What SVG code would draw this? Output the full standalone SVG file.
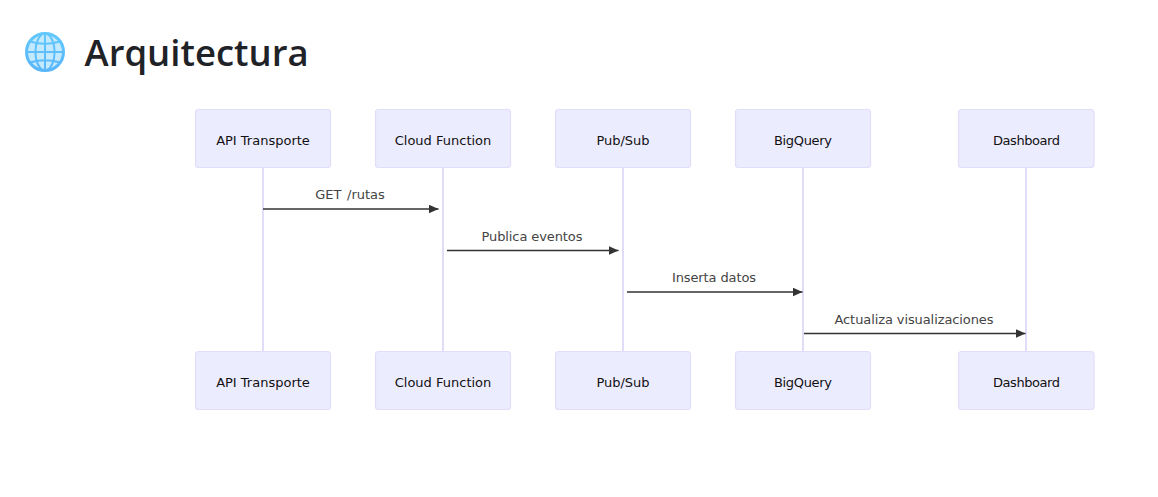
<svg xmlns="http://www.w3.org/2000/svg" width="1158" height="497" viewBox="0 0 1158 497">
<defs>
<linearGradient id="g" x1="0" y1="0" x2="0" y2="1"><stop offset="0" stop-color="#62c8fd"/><stop offset="1" stop-color="#5ab6fb"/></linearGradient>
<marker id="arrow" viewBox="0 0 10 9" refX="10" refY="4.500" markerWidth="10" markerHeight="9" markerUnits="userSpaceOnUse" orient="auto"><path d="M0 0L10 4.500L0 9z" fill="#333"/></marker>
</defs>
<style>
text{font-family:"DejaVu Sans",sans-serif}
.box{fill:#ececff;stroke:#e2ddf9;stroke-width:1.200}
.life{stroke:#e2dcf9;stroke-width:2;fill:none}
.msg{stroke:#333;stroke-width:1.500;fill:none;marker-end:url(#arrow)}
.nl{font-size:13px;fill:#111;text-anchor:middle}
.ml{font-size:13px;fill:#444;text-anchor:middle}
</style>
<rect width="1158" height="497" fill="#fff"/>
<g id="title-icon" fill="none">
<circle cx="45" cy="52" r="19" fill="#c2e9fe"/>
<g stroke="url(#g)" stroke-width="2">
<circle cx="45" cy="52" r="18.500" stroke-width="3"/>
<ellipse cx="45" cy="52" rx="9.500" ry="18.500"/>
<path d="M45 33.500V70.500M26.500 52H63.500M30 41.500Q45 46 60 41.500M30 62.500Q45 58 60 62.500"/>
</g>
</g>
<text id="title" x="84.500" y="66" font-size="36.500" font-weight="600" style="font-family:'Open Sans',sans-serif" fill="#1f2328">Arquitectura</text>
<g id="connectors">
<line class="life" x1="263" y1="168" x2="263" y2="351"/>
<line class="life" x1="443" y1="168" x2="443" y2="351"/>
<line class="life" x1="623" y1="168" x2="623" y2="351"/>
<line class="life" x1="803" y1="168" x2="803" y2="351"/>
<line class="life" x1="1026" y1="168" x2="1026" y2="351"/>
<line class="msg" x1="263" y1="209" x2="438.500" y2="209"/>
<text class="ml" x="350" y="199" word-spacing="1.500">GET /rutas</text>
<line class="msg" x1="447" y1="250.500" x2="618.500" y2="250.500"/>
<text class="ml" x="532" y="241" textLength="101">Publica eventos</text>
<line class="msg" x1="627" y1="292" x2="802.500" y2="292"/>
<text class="ml" x="714" y="282" textLength="84">Inserta datos</text>
<line class="msg" x1="804" y1="333.500" x2="1025.500" y2="333.500"/>
<text class="ml" x="914" y="324" textLength="159">Actualiza visualizaciones</text>
</g>
<g id="n1-top"><rect class="box" x="195.500" y="109.500" width="135" height="58" rx="3"/><text class="nl" x="263" y="145">API Transporte</text></g>
<g id="n2-top"><rect class="box" x="375.500" y="109.500" width="135" height="58" rx="3"/><text class="nl" x="443" y="145">Cloud Function</text></g>
<g id="n3-top"><rect class="box" x="555.500" y="109.500" width="135" height="58" rx="3"/><text class="nl" x="623" y="145">Pub/Sub</text></g>
<g id="n4-top"><rect class="box" x="735.500" y="109.500" width="135" height="58" rx="3"/><text class="nl" x="803" y="145" textLength="58">BigQuery</text></g>
<g id="n5-top"><rect class="box" x="958.500" y="109.500" width="135.500" height="58" rx="3"/><text class="nl" x="1026.500" y="145" textLength="67">Dashboard</text></g>
<g id="n1-bottom"><rect class="box" x="195.500" y="351.500" width="135" height="58" rx="3"/><text class="nl" x="263" y="387">API Transporte</text></g>
<g id="n2-bottom"><rect class="box" x="375.500" y="351.500" width="135" height="58" rx="3"/><text class="nl" x="443" y="387">Cloud Function</text></g>
<g id="n3-bottom"><rect class="box" x="555.500" y="351.500" width="135" height="58" rx="3"/><text class="nl" x="623" y="387">Pub/Sub</text></g>
<g id="n4-bottom"><rect class="box" x="735.500" y="351.500" width="135" height="58" rx="3"/><text class="nl" x="803" y="387" textLength="58">BigQuery</text></g>
<g id="n5-bottom"><rect class="box" x="958.500" y="351.500" width="135.500" height="58" rx="3"/><text class="nl" x="1026.500" y="387" textLength="67">Dashboard</text></g>
</svg>
